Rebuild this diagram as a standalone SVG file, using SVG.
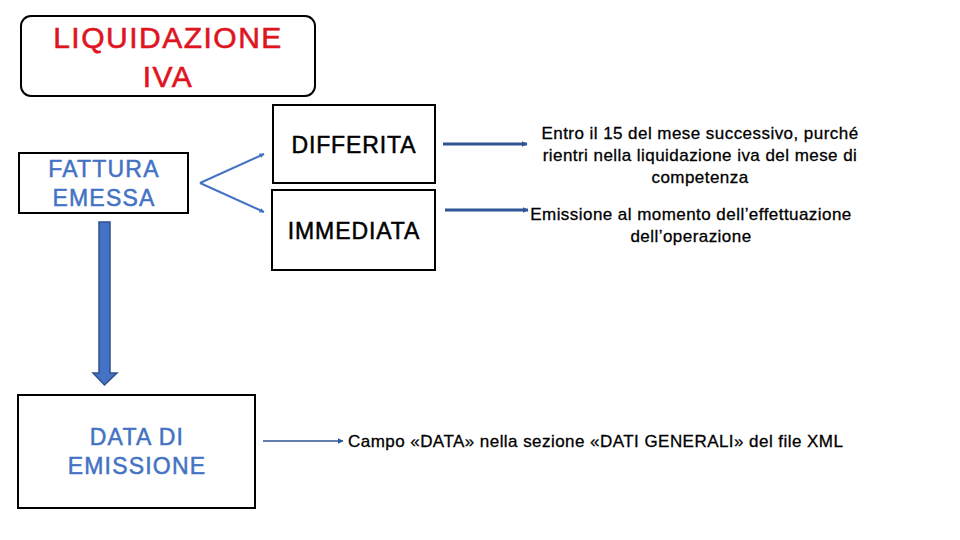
<svg xmlns="http://www.w3.org/2000/svg" width="960" height="540" viewBox="0 0 960 540">
<style>
.box{fill:#fff;stroke:#000;stroke-width:2}
.t{font-family:"Liberation Sans",Arial,sans-serif;text-anchor:middle}
.red{fill:#E0141E;stroke:#E0141E;stroke-width:0.6px;font-size:30px;letter-spacing:1.5px}
.blue{fill:#4472C4;stroke:#4472C4;stroke-width:0.5px;font-size:23px;letter-spacing:1.2px}
.blk{fill:#000;stroke:#000;stroke-width:0.5px;font-size:23px;letter-spacing:0.9px}
.sm{fill:#000;stroke:#000;stroke-width:0.3px;font-size:17px;letter-spacing:0.45px}
.thin{stroke:#4472C4;stroke-width:2;fill:none}
.dark{stroke:#2F5597;stroke-width:3;fill:none}
.dark1{stroke:#2F5597;stroke-width:1.5;fill:none}
</style>
<defs>
<marker id="ah" viewBox="0 0 10 10" refX="9" refY="5" markerWidth="5" markerHeight="5" orient="auto" markerUnits="userSpaceOnUse">
<path d="M0,0 L10,5 L0,10 z" fill="#4472C4"/>
</marker>
<marker id="ahd" viewBox="0 0 10 10" refX="9" refY="5" markerWidth="6" markerHeight="6" orient="auto" markerUnits="userSpaceOnUse">
<path d="M0,0 L10,5 L0,10 z" fill="#2F5597"/>
</marker>
</defs>
<rect width="960" height="540" fill="#fff"/>
<g id="title">
<rect x="21" y="16" width="294" height="80" rx="10" ry="10" fill="#fff" stroke="#000" stroke-width="2"/>
<text class="t red" x="168" y="48">LIQUIDAZIONE</text>
<text class="t red" x="168" y="87">IVA</text>
</g>
<g id="fattura">
<rect class="box" x="19" y="153" width="169" height="60"/>
<text class="t blue" x="104" y="177">FATTURA</text>
<text class="t blue" x="104" y="206">EMESSA</text>
</g>
<g id="differita">
<rect class="box" x="273" y="105" width="162" height="78"/>
<text class="t blk" x="354" y="153">DIFFERITA</text>
</g>
<g id="immediata">
<rect class="box" x="272" y="190" width="163" height="80"/>
<text class="t blk" x="354" y="239">IMMEDIATA</text>
</g>
<g id="data">
<rect class="box" x="18" y="395" width="237" height="113"/>
<text class="t blue" x="137" y="445">DATA DI</text>
<text class="t blue" x="137" y="474">EMISSIONE</text>
</g>
<g id="desc-differita">
<text class="t sm" x="700" y="139">Entro il 15 del mese successivo, purché</text>
<text class="t sm" x="700" y="161">rientri nella liquidazione iva del mese di</text>
<text class="t sm" x="700" y="183">competenza</text>
</g>
<g id="desc-immediata">
<text class="t sm" x="691" y="220">Emissione al momento dell’effettuazione</text>
<text class="t sm" x="691" y="242">dell’operazione</text>
</g>
<g id="desc-data">
<text class="sm" x="348" y="447" font-family="'Liberation Sans',Arial,sans-serif">Campo «DATA» nella sezione «DATI GENERALI» del file XML</text>
</g>
<g id="connectors">
<line class="thin" x1="200" y1="183" x2="264" y2="154" marker-end="url(#ah)"/>
<line class="thin" x1="200" y1="183" x2="264" y2="212" marker-end="url(#ah)"/>
<line class="dark" x1="443" y1="144" x2="527" y2="144" marker-end="url(#ahd)"/>
<line class="dark" x1="445" y1="210" x2="528" y2="210" marker-end="url(#ahd)"/>
<line class="dark1" x1="263" y1="441" x2="343" y2="441" marker-end="url(#ahd)"/>
<path d="M99,222 L110,222 L110,373 L117,373 L104.5,385 L93,373 L99,373 Z" fill="#4472C4" stroke="#2F528F" stroke-width="1.5"/>
</g>
</svg>
